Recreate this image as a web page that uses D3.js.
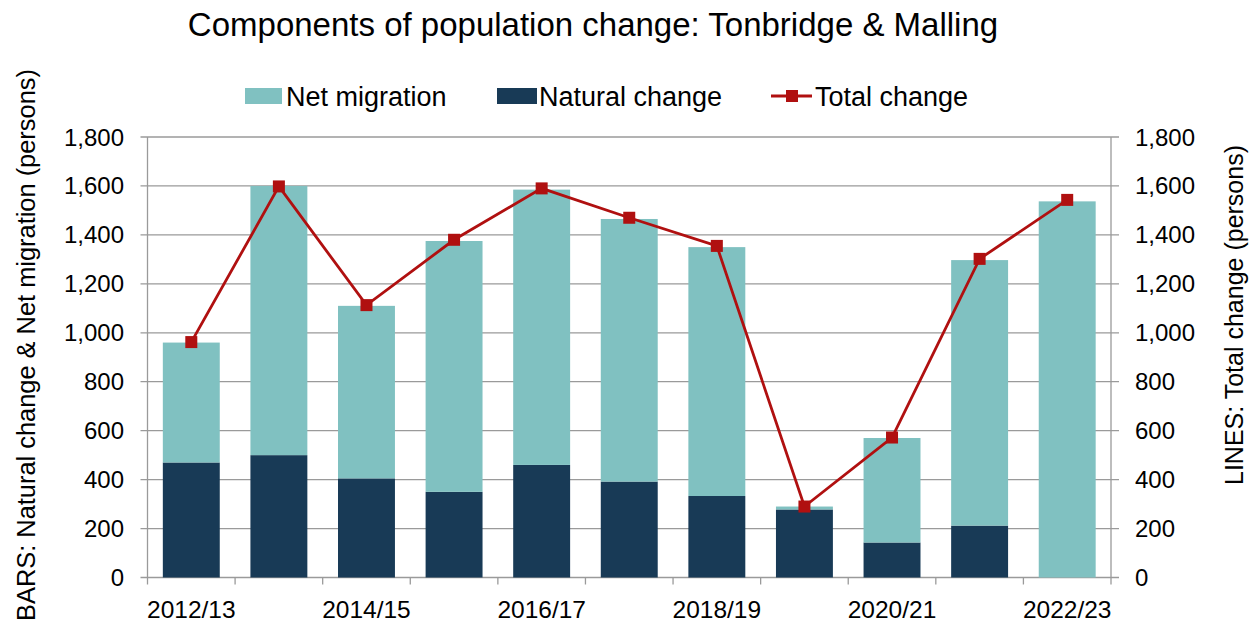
<!DOCTYPE html>
<html>
<head>
<meta charset="utf-8">
<script src="https://cdn.jsdelivr.net/npm/d3@7"></script>
<style>
  body { margin: 0; background: #fff; }
  svg { display: block; font-family: "Liberation Sans", Arial, sans-serif; }
</style>
</head>
<body>
<div id="chart"></div>
<script>
// components of population change, bars stacked on left axis, total as line on right axis

const years = ["2012/13", "2013/14", "2014/15", "2015/16", "2016/17", "2017/18",
  "2018/19", "2019/20", "2020/21", "2021/22", "2022/23"];
const naturalChange = [470, 500, 405, 350, 460, 392, 333, 278, 143, 212, 0];
const netMigration = [490, 1100, 705, 1025, 1125, 1073, 1017, 12, 427, 1085, 1537];
const totalChange = [962, 1598, 1113, 1380, 1590, 1470, 1355, 290, 572, 1302, 1543];
const yTicks = [0, 200, 400, 600, 800, 1000, 1200, 1400, 1600, 1800];

const W = 1255, H = 624;
const margin = { top: 137, right: 144, bottom: 46.5, left: 147.5 };
const innerW = W - margin.left - margin.right;
const innerH = H - margin.top - margin.bottom;

const colors = { mig: "#80c1c1", nat: "#183a56", line: "#b01010", grid: "#9a9a9a" };
const MARK = 12;

const svg = d3.select("#chart").append("svg")
  .attr("width", W).attr("height", H);

const g = svg.append("g").attr("transform", `translate(${margin.left},${margin.top})`);

const x = d3.scaleBand().domain(years).range([0, innerW]).paddingInner(0.35).paddingOuter(0.175);
const yL = d3.scaleLinear().domain([0, 1800]).range([innerH, 0]);
const yR = d3.scaleLinear().domain([0, 1800]).range([innerH, 0]);
const fmt = d3.format(",");

// gridlines
g.append("g").selectAll("line").data(yTicks).enter().append("line")
  .attr("x1", -7).attr("x2", innerW + 8)
  .attr("y1", d => yL(d)).attr("y2", d => yL(d))
  .attr("stroke", colors.grid).attr("stroke-width", 1.3);

// stacked bars
const rows = years.map((yr, i) => ({ year: yr, nat: naturalChange[i], mig: netMigration[i] }));
const stack = d3.stack().keys(["nat", "mig"])(rows);
g.append("g").selectAll("g").data(stack).enter().append("g")
  .attr("fill", d => d.key === "nat" ? colors.nat : colors.mig)
  .selectAll("rect").data(d => d).enter().append("rect")
  .attr("x", d => x(d.data.year))
  .attr("width", x.bandwidth())
  .attr("y", d => yL(d[1]))
  .attr("height", d => yL(d[0]) - yL(d[1]));

// axes lines
g.append("line").attr("x1", 0).attr("x2", 0).attr("y1", 0).attr("y2", innerH)
  .attr("stroke", colors.grid).attr("stroke-width", 1.3);
g.append("line").attr("x1", innerW).attr("x2", innerW).attr("y1", 0).attr("y2", innerH)
  .attr("stroke", colors.grid).attr("stroke-width", 1.3);

// x tick marks at category boundaries
const bounds = d3.range(years.length + 1).map(i => i * innerW / years.length);
g.append("g").selectAll("line").data(bounds).enter().append("line")
  .attr("x1", d => d).attr("x2", d => d)
  .attr("y1", innerH).attr("y2", innerH + 7)
  .attr("stroke", colors.grid).attr("stroke-width", 1.3);

// x labels, every other year
g.append("g").selectAll("text").data(years.filter((d, i) => i % 2 === 0)).enter().append("text")
  .attr("x", d => x(d) + x.bandwidth() / 2)
  .attr("y", innerH + 40.5)
  .attr("text-anchor", "middle")
  .attr("font-size", 24.5)
  .text(d => d);

// left y labels
g.append("g").selectAll("text").data(yTicks).enter().append("text")
  .attr("x", -23.5).attr("y", d => yL(d) + 8.5)
  .attr("text-anchor", "end").attr("font-size", 24)
  .text(d => fmt(d));

// right y labels
g.append("g").selectAll("text").data(yTicks).enter().append("text")
  .attr("x", innerW + 24).attr("y", d => yR(d) + 8.5)
  .attr("text-anchor", "start").attr("font-size", 24)
  .text(d => fmt(d));

// total change line
const line = d3.line()
  .x((d, i) => x(years[i]) + x.bandwidth() / 2)
  .y(d => yR(d));
g.append("path").datum(totalChange)
  .attr("d", line).attr("fill", "none")
  .attr("stroke", colors.line).attr("stroke-width", 2.8);
g.append("g").selectAll("rect").data(totalChange).enter().append("rect")
  .attr("x", (d, i) => x(years[i]) + x.bandwidth() / 2 - MARK / 2)
  .attr("y", d => yR(d) - MARK / 2)
  .attr("width", MARK).attr("height", MARK)
  .attr("fill", colors.line);

// title
svg.append("text").attr("x", 593).attr("y", 36)
  .attr("text-anchor", "middle").attr("font-size", 33)
  .text("Components of population change: Tonbridge & Malling");

// axis titles
svg.append("text")
  .attr("transform", `translate(35,345) rotate(-90)`)
  .attr("text-anchor", "middle").attr("font-size", 25.4)
  .text("BARS: Natural change & Net migration (persons)");
svg.append("text")
  .attr("transform", `translate(1243,315) rotate(-90)`)
  .attr("text-anchor", "middle").attr("font-size", 25)
  .text("LINES: Total change (persons)");

// legend
const legend = svg.append("g").attr("font-size", 27);
legend.append("rect").attr("x", 245).attr("y", 88).attr("width", 37).attr("height", 16).attr("fill", colors.mig);
legend.append("text").attr("x", 286).attr("y", 106).text("Net migration");
legend.append("rect").attr("x", 497).attr("y", 88).attr("width", 40).attr("height", 16).attr("fill", colors.nat);
legend.append("text").attr("x", 539).attr("y", 106).text("Natural change");
legend.append("line").attr("x1", 771).attr("x2", 812).attr("y1", 96).attr("y2", 96)
  .attr("stroke", colors.line).attr("stroke-width", 2.8);
legend.append("rect").attr("x", 786).attr("y", 90).attr("width", MARK).attr("height", MARK).attr("fill", colors.line);
legend.append("text").attr("x", 815).attr("y", 106).text("Total change");
</script>
</body>
</html>
